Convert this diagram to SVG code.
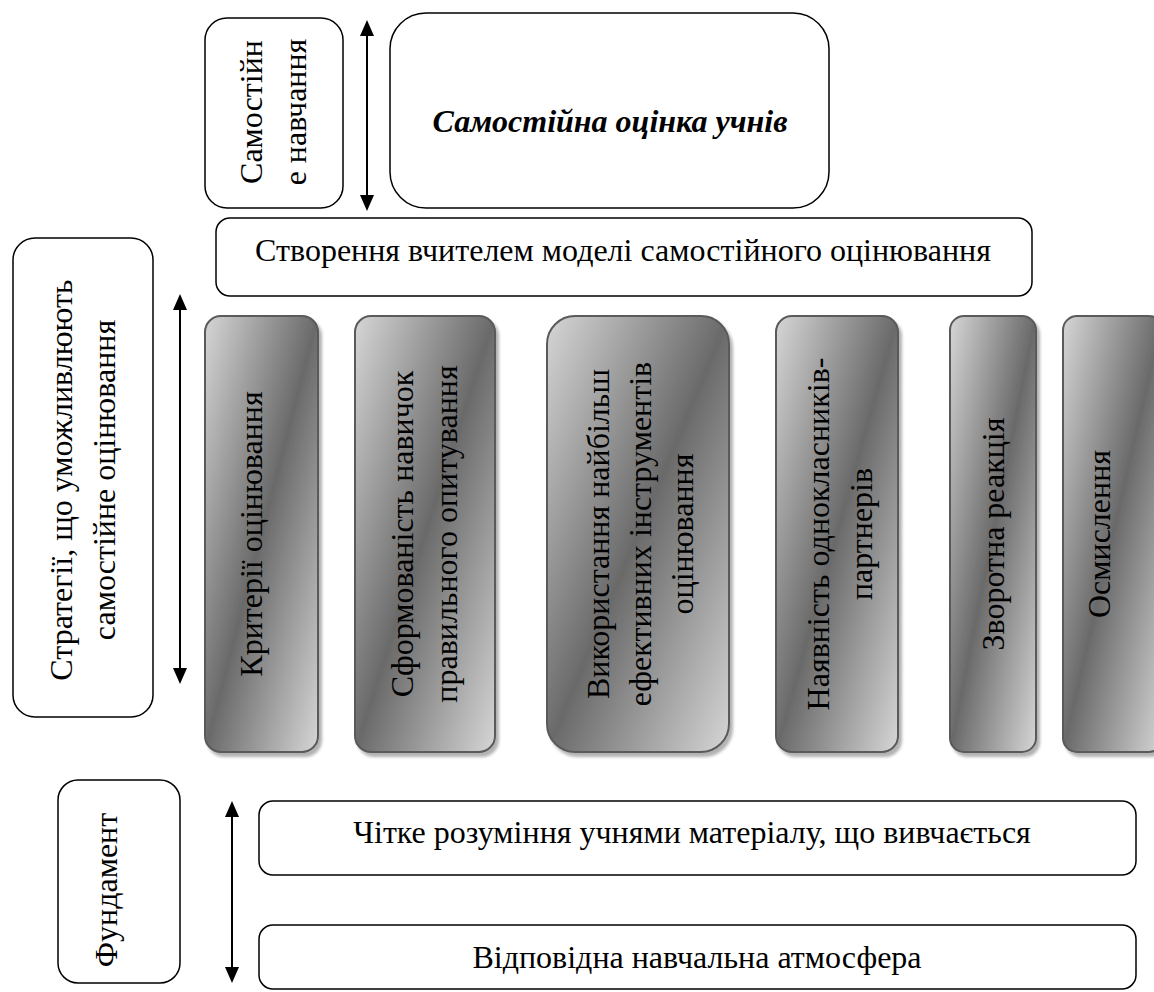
<svg xmlns="http://www.w3.org/2000/svg" width="1154" height="992" viewBox="0 0 1154 992">
<defs>
<style>
.box{fill:#fff;stroke:#000;stroke-width:1.5}
.pil{fill:url(#g);stroke:#5a5a5a;stroke-width:2;filter:url(#sh)}
.t{font-family:"Liberation Serif","Times New Roman",serif;font-size:32px;fill:#000}
.c{text-anchor:middle;dominant-baseline:central}
.h{text-anchor:middle}
.bi{font-weight:bold;font-style:italic}
.ln{stroke:#000;stroke-width:2}
.ah{fill:#000}
</style>
<linearGradient id="g" x1="0" y1="0" x2="1" y2="1">
<stop offset="0" stop-color="#d6d6d6"/>
<stop offset="0.5" stop-color="#6a6a6a"/>
<stop offset="1" stop-color="#d6d6d6"/>
</linearGradient>
<filter id="sh" x="-10%" y="-5%" width="130%" height="115%">
<feDropShadow dx="3" dy="4" stdDeviation="1.5" flood-color="#000" flood-opacity="0.3"/>
</filter>
</defs>

<g id="connectors">
<line class="ln" x1="367" y1="30" x2="367" y2="200"/>
<path class="ah" d="M367,20 L360,36 L374,36 z M367,211 L360,195 L374,195 z"/>
<line class="ln" x1="180" y1="300" x2="180" y2="675"/>
<path class="ah" d="M180,294 L173,310 L187,310 z M180,684 L173,668 L187,668 z"/>
<line class="ln" x1="232" y1="808" x2="232" y2="975"/>
<path class="ah" d="M232,801 L225,817 L239,817 z M232,983 L225,967 L239,967 z"/>
</g>

<g id="n-samostiyne">
<rect class="box" x="205" y="18" width="138" height="190" rx="22"/>
<text class="t c" transform="translate(251,112) rotate(-90)">Самостійн</text>
<text class="t c" transform="translate(295,112) rotate(-90)">е навчання</text>
</g>

<g id="n-otsinka">
<rect class="box" x="390" y="13" width="439" height="195" rx="36"/>
<text class="t h bi" x="610" y="132">Самостійна оцінка учнів</text>
</g>

<g id="n-model">
<rect class="box" x="216" y="218" width="816" height="78" rx="14"/>
<text class="t h" x="623" y="261">Створення вчителем моделі самостійного оцінювання</text>
</g>

<g id="n-strategii">
<rect class="box" x="13" y="238" width="140" height="479" rx="22"/>
<text class="t c" transform="translate(61,480) rotate(-90)">Стратегії, що уможливлюють</text>
<text class="t c" transform="translate(104,480) rotate(-90)">самостійне оцінювання</text>
</g>

<g id="p1">
<rect class="pil" x="205" y="316" width="113" height="436" rx="16"/>
<text class="t c" transform="translate(251,534) rotate(-90)">Критерії оцінювання</text>
</g>
<g id="p2">
<rect class="pil" x="355" y="316" width="140" height="436" rx="16"/>
<text class="t c" transform="translate(402,534) rotate(-90)">Сформованість навичок</text>
<text class="t c" transform="translate(446,534) rotate(-90)">правильного опитування</text>
</g>
<g id="p3">
<rect class="pil" x="547" y="316" width="182" height="436" rx="28"/>
<text class="t c" transform="translate(598,534) rotate(-90)">Використання найбільш</text>
<text class="t c" transform="translate(640,534) rotate(-90)">ефективних інструментів</text>
<text class="t c" transform="translate(682,534) rotate(-90)">оцінювання</text>
</g>
<g id="p4">
<rect class="pil" x="776" y="316" width="122" height="436" rx="16"/>
<text class="t c" transform="translate(818,534) rotate(-90)">Наявність однокласників-</text>
<text class="t c" transform="translate(861,534) rotate(-90)">партнерів</text>
</g>
<g id="p5">
<rect class="pil" x="950" y="316" width="86" height="436" rx="14"/>
<text class="t c" transform="translate(993,534) rotate(-90)">Зворотна реакція</text>
</g>
<g id="p6">
<rect class="pil" x="1063" y="316" width="100" height="436" rx="14"/>
<text class="t c" transform="translate(1099,534) rotate(-90)">Осмислення</text>
</g>

<g id="n-fundament">
<rect class="box" x="58" y="780" width="122" height="203" rx="20"/>
<text class="t c" transform="translate(106,890) rotate(-90)">Фундамент</text>
</g>

<g id="n-rozuminnya">
<rect class="box" x="259" y="801" width="877" height="74" rx="14"/>
<text class="t h" x="692" y="843">Чітке розуміння учнями матеріалу, що вивчається</text>
</g>

<g id="n-atmosfera">
<rect class="box" x="259" y="925" width="877" height="64" rx="14"/>
<text class="t h" x="697" y="968">Відповідна навчальна атмосфера</text>
</g>
</svg>
